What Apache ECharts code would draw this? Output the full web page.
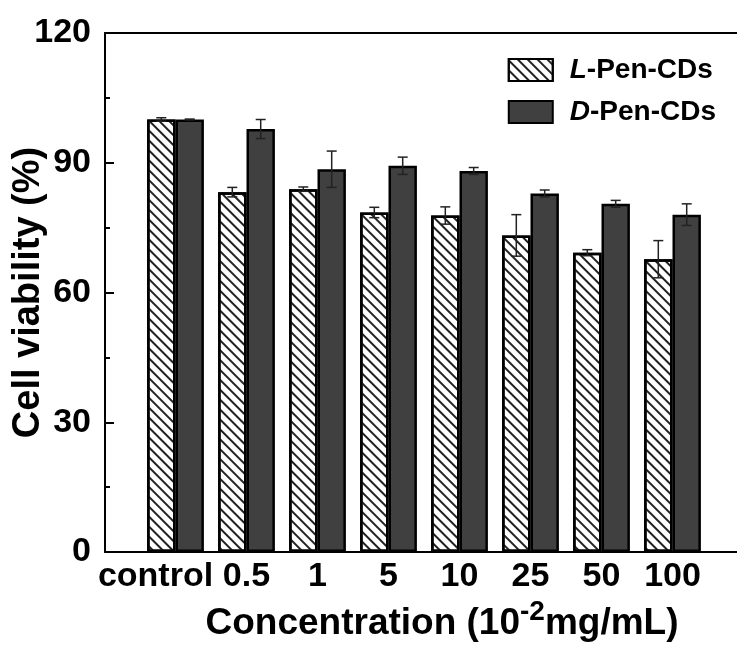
<!DOCTYPE html>
<html>
<head>
<meta charset="utf-8">
<script src="https://cdn.jsdelivr.net/npm/echarts@6/dist/echarts.min.js"></script>
<style>
  html, body { margin: 0; padding: 0; background: #fff; }
  #chart { width: 737px; height: 646px; }
</style>
</head>
<body>
<div id="chart"></div>
<script>
// data
const categories = ["control", "0.5", "1", "5", "10", "25", "50", "100"];
const lPenValues = [100, 83.2, 83.9, 78.5, 77.8, 73.2, 69.2, 67.7];
const lPenErrors = [0.4, 1.1, 0.5, 1.2, 2.0, 4.8, 0.7, 4.3];
const dPenValues = [100, 97.8, 88.5, 89.3, 88.1, 82.9, 80.5, 78.0];
const dPenErrors = [0.1, 2.2, 4.2, 2.0, 0.8, 0.8, 0.8, 2.5];
const yTicks = [0, 30, 60, 90, 120];

const FONT = "Liberation Sans, Arial, sans-serif";
const BAR_FRAC = 0.4; // bar width as a fraction of the category band

const chart = echarts.init(document.getElementById("chart"));

// error bars, drawn through the category/value axes of the bar grid
function errorSeries(name, values, errors, side) {
  return {
    name: name + " err",
    type: "custom",
    xAxisIndex: 2,
    yAxisIndex: 1,
    z: 10,
    silent: true,
    data: values.map((v, i) => [i, v, errors[i]]),
    encode: { x: 0, y: 1 },
    renderItem: (params, api) => {
      const i = api.value(0);
      const v = api.value(1);
      const e = api.value(2);
      const band = api.size([1, 0])[0];
      const dx = side * band * BAR_FRAC / 2;
      const hi = api.coord([i, v + e]);
      const lo = api.coord([i, v - e]);
      const x = hi[0] + dx;
      const cap = 5;
      const style = { stroke: "#222", lineWidth: 1.5 };
      return {
        type: "group",
        children: [
          { type: "line", shape: { x1: x, y1: hi[1], x2: x, y2: lo[1] }, style },
          { type: "line", shape: { x1: x - cap, y1: hi[1], x2: x + cap, y2: hi[1] }, style },
          { type: "line", shape: { x1: x - cap, y1: lo[1], x2: x + cap, y2: lo[1] }, style },
        ],
      };
    },
  };
}

const option = {
  animation: false,
  backgroundColor: "#fff",
  grid: [
    // frame grid: left axis, top and bottom lines
    { left: 105, right: 0, top: 33, bottom: 94, outerBoundsMode: "none" },
    // bar grid: categories sit inside the frame
    { left: 140, right: 29, top: 33, bottom: 94, outerBoundsMode: "none" },
  ],
  legend: {
    orient: "vertical",
    right: 16,
    top: 51,
    itemWidth: 44,
    itemHeight: 22,
    itemGap: 14,
    icon: "rect",
    data: ["L-Pen-CDs", "D-Pen-CDs"],
    formatter: (name) => "{i|" + name.charAt(0) + "}" + name.slice(1),
    textStyle: {
      fontFamily: FONT,
      fontSize: 28,
      fontWeight: "bold",
      color: "#000",
      padding: [0, 0, 0, 12],
      rich: {
        i: { fontFamily: FONT, fontSize: 28, fontWeight: "bold", fontStyle: "italic", color: "#000" },
      },
    },
  },
  xAxis: [
    {
      gridIndex: 0, type: "value", min: 0, max: 1, position: "bottom",
      axisLine: { show: true, lineStyle: { color: "#000", width: 2 } },
      axisTick: { show: false }, axisLabel: { show: false }, splitLine: { show: false },
    },
    {
      gridIndex: 0, type: "value", min: 0, max: 1, position: "top",
      axisLine: { show: true, lineStyle: { color: "#000", width: 2 } },
      axisTick: { show: false }, axisLabel: { show: false }, splitLine: { show: false },
    },
    {
      gridIndex: 1,
      type: "category",
      data: categories.map((c, i) =>
        i === 0 ? { value: c, textStyle: { padding: [0, 40, 0, 0] } } : c
      ),
      axisLine: { show: false },
      axisTick: { show: false },
      axisLabel: {
        margin: 8,
        interval: 0,
        fontFamily: FONT,
        fontSize: 34,
        fontWeight: "bold",
        color: "#000",
      },
      name: "Concentration (10{sup|-2}mg/mL)",
      nameLocation: "middle",
      nameGap: 46,
      nameMoveOverlap: false,
      nameTextStyle: {
        fontFamily: FONT,
        fontSize: 37,
        fontWeight: "bold",
        color: "#000",
        padding: [0, 0, 0, 36],
        rich: {
          sup: { fontFamily: FONT, fontSize: 28, fontWeight: "bold", color: "#000", verticalAlign: "top", padding: [0, 0, 24, 0] },
        },
      },
    },
  ],
  yAxis: [
    {
      gridIndex: 0,
      type: "value",
      min: 0,
      max: 120,
      interval: 30,
      axisLine: { show: true, lineStyle: { color: "#000", width: 2 } },
      axisTick: { show: true, inside: true, length: 9, lineStyle: { color: "#000", width: 2 } },
      minorTick: { show: true, splitNumber: 2, length: 5, lineStyle: { color: "#000", width: 2 } },
      splitLine: { show: false },
      axisLabel: {
        margin: 14,
        fontFamily: FONT,
        fontSize: 34,
        fontWeight: "bold",
        color: "#000",
        formatter: (v) => (yTicks.includes(v) ? String(v) : ""),
      },
      name: "Cell viability (%)",
      nameLocation: "middle",
      nameGap: 57,
      nameMoveOverlap: false,
      nameTextStyle: { fontFamily: FONT, fontSize: 38, fontWeight: "bold", color: "#000" },
    },
    {
      gridIndex: 1, type: "value", min: 0, max: 120,
      show: false, splitLine: { show: false },
    },
  ],
  series: [
    {
      name: "L-Pen-CDs",
      type: "bar",
      xAxisIndex: 2,
      yAxisIndex: 1,
      barWidth: BAR_FRAC * 100 + "%",
      barGap: "0%",
      data: lPenValues,
      itemStyle: {
        color: "#fff",
        borderColor: "#000",
        borderWidth: 2.5,
        decal: {
          symbol: "rect",
          symbolSize: 1,
          dashArrayX: [1, 0],
          dashArrayY: [1.2, 4.6],
          rotation: Math.PI / 4,
          color: "#222",
        },
      },
    },
    {
      name: "D-Pen-CDs",
      type: "bar",
      xAxisIndex: 2,
      yAxisIndex: 1,
      barWidth: BAR_FRAC * 100 + "%",
      barGap: "0%",
      data: dPenValues,
      itemStyle: { color: "#404040", borderColor: "#000", borderWidth: 2.5 },
    },
    errorSeries("L-Pen-CDs", lPenValues, lPenErrors, -1),
    errorSeries("D-Pen-CDs", dPenValues, dPenErrors, 1),
  ],
};

chart.setOption(option);
</script>
</body>
</html>
